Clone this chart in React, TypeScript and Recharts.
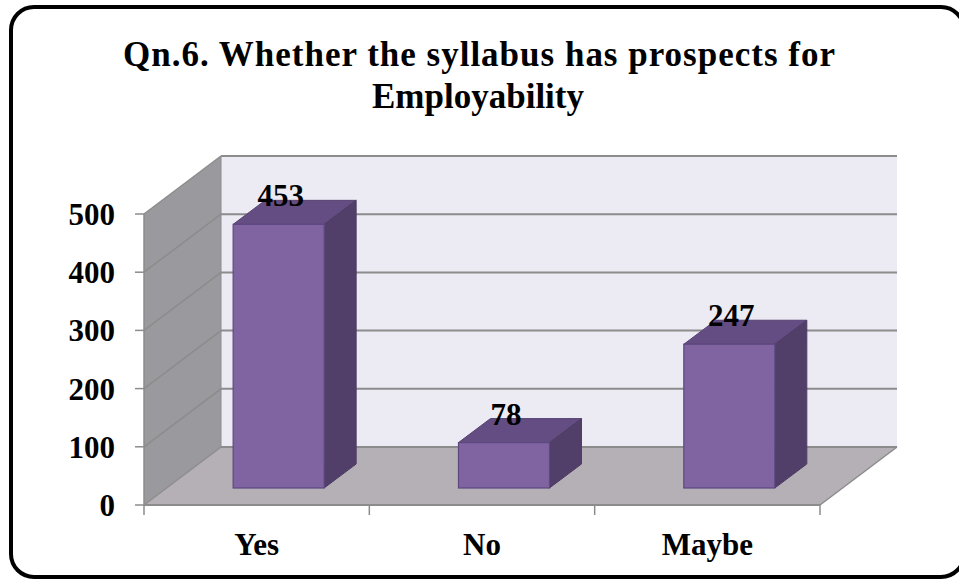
import React from "react";
import { BarChart, Bar, XAxis, YAxis, ReferenceArea, LabelList } from "recharts";

const categories = ["Yes", "No", "Maybe"];
const responses = [453, 78, 247];
const yTicks = [0, 100, 200, 300, 400, 500];
const titleLines = ["Qn.6. Whether the syllabus has prospects for", "Employability"];

const data = categories.map((name, i) => ({ name, value: responses[i] }));

const W = 959;
const H = 579;
const FONT = "'Liberation Serif', 'Times New Roman', serif";
const DX = 77; // depth offset of back wall
const DY = 58;
const BAR_OFF_X = 22; // bar front offset into floor
const BAR_OFF_Y = 17;
const BAR_DX = 32; // bar depth
const BAR_DY = 24;
const GRID = "#8c8c8c";

const Walls = (props: any) => {
  const { x, y, width, height } = props;
  const x0 = x;
  const x1 = x + width;
  const yTop = y;
  const yBot = y + height;
  const nT = yTicks.length - 1;
  const lines: React.ReactNode[] = [];
  yTicks.forEach((t, i) => {
    const yf = yBot - (height * i) / nT;
    lines.push(
      <line key={"b" + t} x1={x0 + DX} y1={yf - DY} x2={x1 + DX} y2={yf - DY} stroke={GRID} strokeWidth={2} />
    );
    lines.push(
      <line key={"l" + t} x1={x0} y1={yf} x2={x0 + DX} y2={yf - DY} stroke={GRID} strokeWidth={1.5} />
    );
  });
  const band = width / categories.length;
  const ticks = [0, 1, 2, 3].map((i) => (
    <line key={"xt" + i} x1={x0 + band * i} y1={yBot} x2={x0 + band * i} y2={yBot + 10} stroke={GRID} strokeWidth={1.5} />
  ));
  return (
    <g>
      <polygon
        points={`${x0 + DX},${yTop - DY} ${x1 + DX},${yTop - DY} ${x1 + DX},${yBot - DY} ${x0 + DX},${yBot - DY}`}
        fill="#eceaf2"
      />
      <polygon
        points={`${x0},${yTop} ${x0 + DX},${yTop - DY} ${x0 + DX},${yBot - DY} ${x0},${yBot}`}
        fill="#9a999d"
      />
      <polygon
        points={`${x0},${yBot} ${x1},${yBot} ${x1 + DX},${yBot - DY} ${x0 + DX},${yBot - DY}`}
        fill="#b4b0b5"
      />
      {lines}
      <line x1={x0 + DX} y1={yTop - DY} x2={x0 + DX} y2={yBot - DY} stroke={GRID} strokeWidth={1} />
      <line x1={x0} y1={yBot} x2={x1} y2={yBot} stroke={GRID} strokeWidth={2} />
      <line x1={x1} y1={yBot} x2={x1 + DX} y2={yBot - DY} stroke={GRID} strokeWidth={1.5} />
      {ticks}
    </g>
  );
};

const Bar3D = (props: any) => {
  const { x, y, width, height } = props;
  if (width == null || height == null) return null;
  const fx = x + BAR_OFF_X;
  const fy = y - BAR_OFF_Y;
  const fb = fy + height;
  return (
    <g>
      <polygon
        points={`${fx},${fy} ${fx + width},${fy} ${fx + width + BAR_DX},${fy - BAR_DY} ${fx + BAR_DX},${fy - BAR_DY}`}
        fill="#644d82"
        stroke="#574373"
        strokeWidth={1}
      />
      <polygon
        points={`${fx + width},${fy} ${fx + width + BAR_DX},${fy - BAR_DY} ${fx + width + BAR_DX},${fb - BAR_DY} ${fx + width},${fb}`}
        fill="#523f69"
        stroke="#4e3c66"
        strokeWidth={1}
      />
      <rect x={fx} y={fy} width={width} height={height} fill="#7f64a1" stroke="#5d4880" strokeWidth={1.2} />
    </g>
  );
};

const ValueLabel = (props: any) => {
  const { x, y, width, value } = props;
  return (
    <text
      x={x + BAR_OFF_X + width / 2 + 2}
      y={y - BAR_OFF_Y - 18}
      textAnchor="middle"
      fontFamily={FONT}
      fontWeight="bold"
      fontSize={31}
      fill="#000"
    >
      {value}
    </text>
  );
};

export default function App() {
  return (
    <div style={{ position: "absolute", left: 0, top: 0, width: W, height: H, background: "#fff", overflow: "hidden" }}>
      <svg width={W} height={H} style={{ position: "absolute", left: 0, top: 0 }}>
        <rect x={11} y={7} width={953} height={570} rx={23} ry={23} fill="#fff" stroke="#000" strokeWidth={4} />
        <text
          x={479}
          y={66}
          textAnchor="middle"
          fontFamily={FONT}
          fontWeight="bold"
          fontSize={35}
          fill="#000"
          textLength={712}
          lengthAdjust="spacing"
        >
          {titleLines[0]}
        </text>
        <text x={478} y={108} textAnchor="middle" fontFamily={FONT} fontWeight="bold" fontSize={35} fill="#000">
          {titleLines[1]}
        </text>
      </svg>
      <div style={{ position: "absolute", left: 0, top: 0 }}>
        <BarChart
          width={W}
          height={H}
          data={data}
          margin={{ top: 214, right: 139, bottom: 14, left: 0 }}
          barCategoryGap="29.8%"
        >
          <ReferenceArea y1={0} y2={500} shape={<Walls />} ifOverflow="visible" />
          <XAxis
            dataKey="name"
            axisLine={false}
            tickLine={false}
            tickSize={8}
            tickMargin={20}
            height={60}
            tick={{ fontFamily: FONT, fontWeight: "bold", fontSize: 31, fill: "#000" }}
          />
          <YAxis
            domain={[0, 500]}
            ticks={yTicks}
            width={144}
            tickSize={9}
            tickMargin={20}
            axisLine={{ stroke: GRID, strokeWidth: 1.5 }}
            tickLine={{ stroke: GRID, strokeWidth: 1.5 }}
            tick={{ fontFamily: FONT, fontWeight: "bold", fontSize: 31, fill: "#000" }}
          />
          <Bar dataKey="value" shape={<Bar3D />} isAnimationActive={false}>
            <LabelList dataKey="value" content={<ValueLabel />} />
          </Bar>
        </BarChart>
      </div>
    </div>
  );
}
